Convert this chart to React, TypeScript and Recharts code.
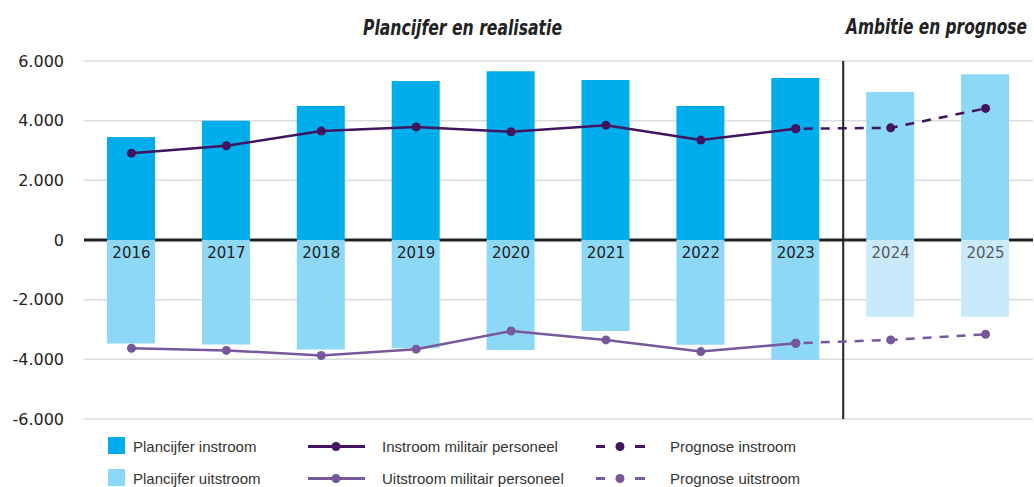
import { ComposedChart, Bar, Line, Cell, XAxis, YAxis, CartesianGrid, ReferenceLine } from 'recharts'

// Instroom / uitstroom militair personeel: plancijfers (staven) + realisatie en prognose (lijnen)
const years = [2016, 2017, 2018, 2019, 2020, 2021, 2022, 2023, 2024, 2025]
const prognoseYears = [2024, 2025]
const plancijferIn = [3450, 4000, 4490, 5330, 5660, 5360, 4490, 5430, 4960, 5560]
const plancijferUit = [-3470, -3500, -3670, -3630, -3690, -3050, -3510, -4010, -2570, -2570]
const instroom = [2910, 3160, 3650, 3790, 3630, 3850, 3350, 3730, null, null]
const uitstroom = [-3630, -3700, -3870, -3660, -3050, -3350, -3740, -3460, null, null]
const prognoseIn = [null, null, null, null, null, null, null, 3730, 3760, 4410]
const prognoseUit = [null, null, null, null, null, null, null, -3460, -3350, -3160]
const yTicks = [-6000, -4000, -2000, 0, 2000, 4000, 6000]

const rows = years.map((year, i) => ({
  year,
  in: plancijferIn[i],
  uit: plancijferUit[i],
  inReal: instroom[i],
  uitReal: uitstroom[i],
  inProg: prognoseIn[i],
  uitProg: prognoseUit[i],
}))

const BLUE = '#00ADEC'
const LIGHT = '#8DD7F7'
const LIGHTER = '#C8EAFA'
const VIOLET = '#42145F'
const PURPLE = '#76589B'

const NUM_FONT = "'DejaVu Sans', sans-serif"
const TXT_FONT = "'Liberation Sans', Arial, sans-serif"
const TITLE_FONT = "'DejaVu Sans Condensed', 'DejaVu Sans', sans-serif"

const fmt = (v: number) => (v < 0 ? '-' : '') + Math.abs(v).toLocaleString('nl-NL')

function YearLabel(props: any) {
  const { cx, cy, payload } = props
  if (cx == null || cy == null) return null
  const prog = prognoseYears.includes(payload.year)
  return (
    <text key={`yl-${payload.year}`} x={cx} y={cy + 18} textAnchor="middle" fontSize={15}
      fontFamily={NUM_FONT} fill={prog ? '#5a5a5a' : '#222'}>
      {payload.year}
    </text>
  )
}

function LegendText({ top, left, label }: { top: number; left: number; label: string }) {
  return (
    <div style={{ position: 'absolute', left, top, lineHeight: '17px', fontSize: 15, color: '#333', fontFamily: TXT_FONT, whiteSpace: 'nowrap' }}>
      {label}
    </div>
  )
}

function LineSymbol({ left, top, color, dashed }: { left: number; top: number; color: string; dashed?: boolean }) {
  return (
    <svg style={{ position: 'absolute', left, top }} width={60} height={17}>
      {dashed ? (
        <>
          <line x1={0} x2={9} y1={8.5} y2={8.5} stroke={color} strokeWidth={3} />
          <circle cx={24} cy={8.5} r={4.5} fill={color} />
          <line x1={39} x2={49} y1={8.5} y2={8.5} stroke={color} strokeWidth={3} />
        </>
      ) : (
        <>
          <line x1={0} x2={57} y1={8.5} y2={8.5} stroke={color} strokeWidth={3} />
          <circle cx={28} cy={8.5} r={4.5} fill={color} />
        </>
      )}
    </svg>
  )
}

export default function App() {
  return (
    <div style={{ position: 'absolute', left: 0, top: 0, width: 1034, height: 487, background: '#fff', overflow: 'hidden' }}>
      <svg style={{ position: 'absolute', left: 0, top: 0 }} width={1034} height={50}>
        <text x={363} y={35} textLength={199} lengthAdjust="spacingAndGlyphs" fontFamily={TITLE_FONT}
          fontStyle="italic" fontWeight={700} fontSize={21} fill="#222">Plancijfer en realisatie</text>
        <text x={846} y={34} textLength={181} lengthAdjust="spacingAndGlyphs" fontFamily={TITLE_FONT}
          fontStyle="italic" fontWeight={700} fontSize={21} fill="#222">Ambitie en prognose</text>
      </svg>

      <ComposedChart width={1034} height={487} data={rows} stackOffset="sign"
        margin={{ top: 61, right: 1, bottom: 68, left: 0 }}>
        <CartesianGrid vertical={false} stroke="#dcdcdc" strokeWidth={1.5} />
        <XAxis type="number" dataKey="year" domain={[2015.5, 2025.5]} hide />
        <YAxis domain={[-6000, 6000]} ticks={yTicks} tickFormatter={fmt} width={84}
          axisLine={false} tickLine={false} tickMargin={14}
          tick={{ fontSize: 16, fill: '#222', fontFamily: NUM_FONT }} />
        <ReferenceLine y={0} stroke="#222" strokeWidth={3} zIndex={250} />
        <ReferenceLine x={2023.5} stroke="#222" strokeWidth={2} />
        <Bar dataKey="in" stackId="s" barSize={48} isAnimationActive={false}>
          {rows.map(r => <Cell key={r.year} fill={prognoseYears.includes(r.year) ? LIGHT : BLUE} />)}
        </Bar>
        <Bar dataKey="uit" stackId="s" barSize={48} isAnimationActive={false}>
          {rows.map(r => <Cell key={r.year} fill={prognoseYears.includes(r.year) ? LIGHTER : LIGHT} />)}
        </Bar>
        <Line type="linear" dataKey="inProg" stroke={VIOLET} strokeWidth={2.5} strokeDasharray="9 8"
          strokeDashoffset={9} dot={{ r: 4.5, fill: VIOLET, stroke: 'none' }} activeDot={false} isAnimationActive={false} />
        <Line type="linear" dataKey="uitProg" stroke={PURPLE} strokeWidth={2.5} strokeDasharray="9 8"
          strokeDashoffset={9} dot={{ r: 4.5, fill: PURPLE, stroke: 'none' }} activeDot={false} isAnimationActive={false} />
        <Line type="linear" dataKey="inReal" stroke={VIOLET} strokeWidth={2.5}
          dot={{ r: 4.5, fill: VIOLET, stroke: 'none' }} activeDot={false} isAnimationActive={false} />
        <Line type="linear" dataKey="uitReal" stroke={PURPLE} strokeWidth={2.5}
          dot={{ r: 4.5, fill: PURPLE, stroke: 'none' }} activeDot={false} isAnimationActive={false} />
        {/* jaartallen direct onder de nullijn */}
        <Line type="linear" dataKey={() => 0} stroke="none" dot={YearLabel} activeDot={false}
          isAnimationActive={false} />
      </ComposedChart>

      {/* legenda */}
      <div style={{ position: 'absolute', left: 108, top: 437, width: 17, height: 17, background: BLUE }} />
      <LegendText left={133} top={437.5} label="Plancijfer instroom" />
      <div style={{ position: 'absolute', left: 108, top: 469, width: 17, height: 17, background: LIGHT }} />
      <LegendText left={133} top={469.5} label="Plancijfer uitstroom" />

      <LineSymbol left={308} top={437.5} color={VIOLET} />
      <LegendText left={382} top={437.5} label="Instroom militair personeel" />
      <LineSymbol left={308} top={469.5} color={PURPLE} />
      <LegendText left={382} top={469.5} label="Uitstroom militair personeel" />

      <LineSymbol left={596} top={437.5} color={VIOLET} dashed />
      <LegendText left={670} top={437.5} label="Prognose instroom" />
      <LineSymbol left={596} top={469.5} color={PURPLE} dashed />
      <LegendText left={670} top={469.5} label="Prognose uitstroom" />
    </div>
  )
}
